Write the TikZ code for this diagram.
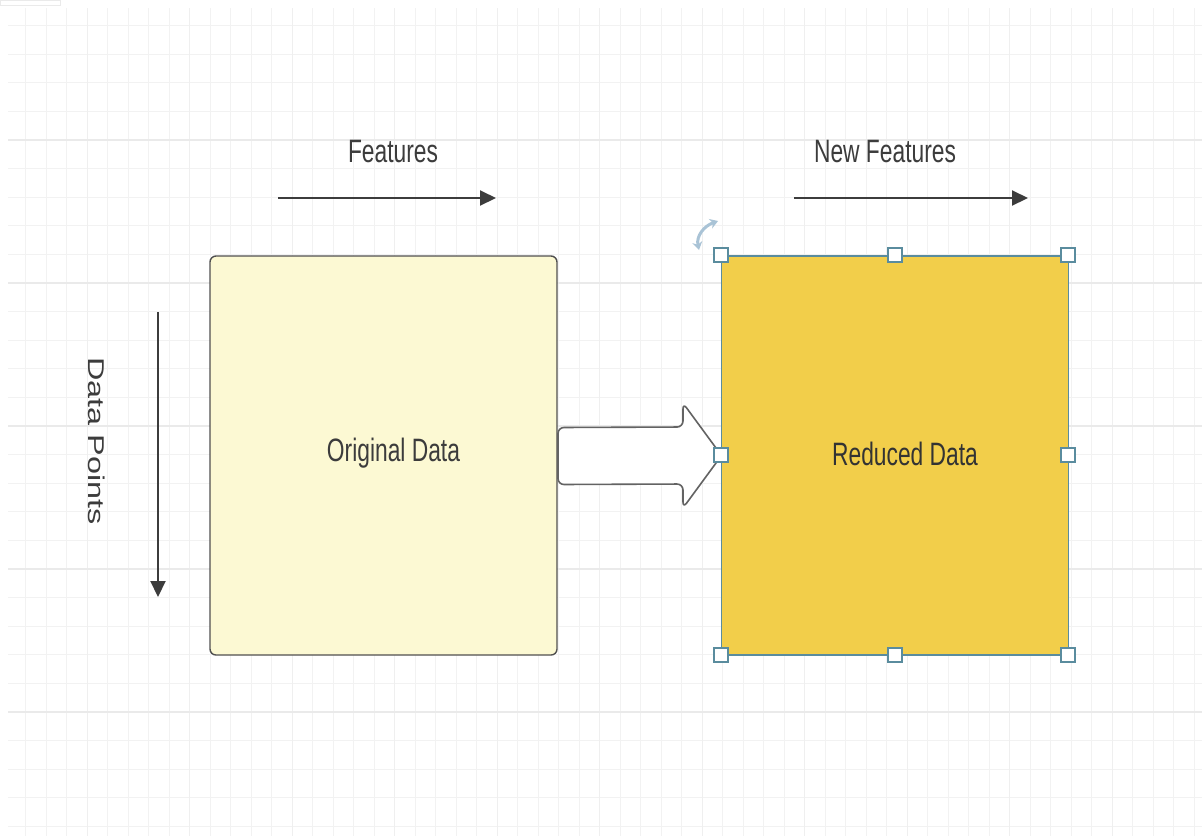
\documentclass[tikz,border=0pt]{standalone}
\usepackage{fontspec}
\setmainfont{Liberation Sans}
\usetikzlibrary{arrows.meta, calc, positioning}

\definecolor{gridminor}{HTML}{F2F2F2}
\definecolor{gridmajor}{HTML}{EAEAEA}
\definecolor{inkgray}{HTML}{3C3C3C}
\definecolor{paleyellow}{HTML}{FCF9D3}
\definecolor{gold}{HTML}{F2CE4A}
\definecolor{selblue}{HTML}{5A8C9E}
\definecolor{rotblue}{HTML}{A9C3D6}

\begin{document}
\begin{tikzpicture}[x=0.5pt, y=-0.5pt]
      \tikzset{data box/.style={draw=#1, line width=0.7pt,
          minimum width=173.5pt, minimum height=199.5pt,
          inner sep=0pt, outer sep=0pt},
        axis arrow/.style={draw=inkgray, line width=1pt,
          -{Triangle[length=8pt, width=7.5pt]}},
        label text/.style={text=inkgray, font=\fontsize{11.4}{13}\selectfont},
        handle/.style={draw=selblue, fill=white, line width=0.6pt,
          minimum size=7pt, inner sep=0pt}
      }
      \useasboundingbox (0,0) rectangle (1202,836);
      \fill [white] (0,0) rectangle (1202,836);
      \draw [gridmajor, line width=0.4pt] (0,0) rectangle (60,5);
      % grid
      \foreach \i in {0,...,57}
        \draw [gridminor, line width=0.5pt] ({25.5+20.5*\i},8) -- ({25.5+20.5*\i},836);
      \foreach \j in {0,...,28}
        \draw [gridminor, line width=0.5pt] (8,{25.6+28.6*\j}) -- (1202,{25.6+28.6*\j});
      \foreach \i in {0,...,10}
        \draw [gridminor!60!gridmajor, line width=0.5pt] ({87+102.5*\i},8) -- ({87+102.5*\i},836);
      \foreach \j in {0,...,4}
        \draw [gridmajor, line width=0.6pt] (8,{140+143*\j}) -- (1202,{140+143*\j});

      % boxes
      \node [data box=inkgray!90, fill=paleyellow, rounded corners=3pt] (orig) at (383.5,455.5) {};
      \node [data box=selblue, fill=gold] (red) at (895,455.5) {};
      \node [label text] at ($(orig.center)+(10,-2)$) {\scalebox{1}[1.42]{Original Data}};
      \node [label text, text=inkgray!85!black] at ($(red.center)+(10,-2)$) {\scalebox{1}[1.42]{Reduced Data}};

      % block arrow
      \draw [draw=inkgray!80, fill=white, line width=0.8pt, rounded corners=3pt]
        ($(orig.east)+(1,-28)$) -- (683,427) -- (683,403) [sharp corners]
        -- (red.west) [rounded corners=3pt] -- (683,508) -- (683,484)
        -- ($(orig.east)+(1,29)$) -- cycle;

      % axis labels
      \coordinate (f1) at (278,198);
      \coordinate (f2) at (496,198);
      \coordinate (n1) at (794,198);
      \coordinate (n2) at (1028,198);
      \coordinate (d1) at (158,312);
      \coordinate (d2) at (158,597);
      \draw [axis arrow] (f1) -- (f2);
      \draw [axis arrow] (n1) -- (n2);
      \draw [axis arrow] (d1) -- (d2);
      \node [label text] (feat) at (393,152) {\scalebox{1}[1.42]{Features}};
      \node [label text] (newfeat) at (885,152) {\scalebox{1}[1.42]{New Features}};
      \node [label text, rotate=-90] (points) at (97,441) {\scalebox{1.42}[1]{Data Points}};

      % selection handles
      \foreach \hx/\hy in {721/255, 895/255, 1068/255, 721/455, 1068/455, 721/655, 895/655, 1068/655}
        \node [handle] at (\hx,\hy) {};
      \draw [rotblue, line width=1.5pt, {Stealth[length=4pt,width=5pt]}-{Stealth[length=4pt,width=5pt]}]
        (699,250) .. controls (696,236) and (704,226) .. (718,221);
    \end{tikzpicture}
\end{document}
